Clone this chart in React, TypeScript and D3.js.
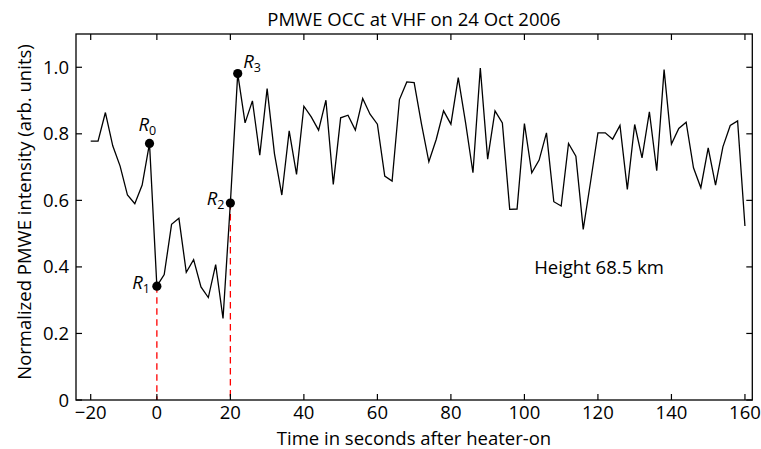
import React from "react";
import * as d3 from "d3";

const TITLE = "PMWE OCC at VHF on 24 Oct 2006";
const X_LABEL = "Time in seconds after heater-on";
const Y_LABEL = "Normalized PMWE intensity (arb. units)";
const NOTE = "Height 68.5 km";

// sample times (s after heater-on), 2 s cadence
const times: number[] = d3.range(-18, 161, 2);
const intensity: number[] = [
  0.778, 0.778, 0.864, 0.764, 0.703, 0.616, 0.590, 0.646, 0.771, 0.342,
  0.377, 0.528, 0.546, 0.384, 0.422, 0.340, 0.308, 0.407, 0.245, 0.592,
  0.981, 0.833, 0.899, 0.736, 0.936, 0.740, 0.616, 0.809, 0.678, 0.883,
  0.851, 0.811, 0.901, 0.648, 0.848, 0.856, 0.811, 0.906, 0.859, 0.829,
  0.673, 0.658, 0.903, 0.956, 0.954, 0.829, 0.716, 0.783, 0.869, 0.829,
  0.969, 0.833, 0.683, 0.998, 0.724, 0.869, 0.833, 0.573, 0.574, 0.831,
  0.683, 0.721, 0.803, 0.596, 0.583, 0.771, 0.733, 0.513, 0.656, 0.803,
  0.803, 0.784, 0.825, 0.633, 0.828, 0.728, 0.866, 0.689, 0.993, 0.769,
  0.816, 0.835, 0.698, 0.638, 0.758, 0.646, 0.761, 0.825, 0.839, 0.523,
];

// marked points R0..R3
const markTimes: number[] = [-2, 0, 20, 22];
const markNames: string[] = ["0", "1", "2", "3"];
const dashedTimes: number[] = [0, 20];

const xTickValues: number[] = [-18, 0, 20, 40, 60, 80, 100, 120, 140, 160];
const xTickLabels: string[] = ["\u221220", "0", "20", "40", "60", "80", "100", "120", "140", "160"];
const yTickValues: number[] = [0, 0.2, 0.4, 0.6, 0.8, 1.0];
const yTickLabels: string[] = ["0", "0.2", "0.4", "0.6", "0.8", "1.0"];

const W = 761;
const H = 449;
const L = 76, R = 752.3, T = 34, B = 400;
const FONT = "'Open Sans', sans-serif";
const FS = 18.5;

export default function App() {
  const x = d3.scaleLinear().domain([-22, 162]).range([L, R]);
  const y = d3.scaleLinear().domain([0, 1.1]).range([B, T]);
  const pts: [number, number][] = times.map((t, i) => [t, intensity[i]]);
  const line = d3.line<[number, number]>().x((d) => x(d[0])).y((d) => y(d[1]));
  const valAt = (t: number) => intensity[times.indexOf(t)];
  const tl = 6;

  // label placement offsets relative to marker (dx, dy, anchor)
  const labelPos: [number, number, string][] = [
    [-11, -12, "start"],
    [-7, 3, "end"],
    [-6, 1.5, "end"],
    [5.5, -5.5, "start"],
  ];

  return (
    <svg width={W} height={H} style={{ position: "absolute", left: 0, top: 0, background: "#fff" }} fontFamily={FONT}>
      <rect x={0} y={0} width={W} height={H} fill="#fff" />
      <text x={414} y={26} textAnchor="middle" fontSize={FS}>{TITLE}</text>

      {dashedTimes.map((t, i) => (
        <line key={"d" + i} x1={x(t)} x2={x(t)} y1={y(valAt(t))} y2={B}
          stroke="#ff0000" strokeWidth={1.3} strokeDasharray="6.5,4.5" />
      ))}

      <path d={line(pts) || ""} fill="none" stroke="#000" strokeWidth={1.3} strokeLinejoin="miter" />

      {markTimes.map((t, i) => {
        const cx = x(t), cy = y(valAt(t));
        const [dx, dy, anchor] = labelPos[i];
        return (
          <g key={"m" + i}>
            <circle cx={cx} cy={cy} r={4.6} fill="#000" />
            <text x={cx + dx} y={cy + dy} textAnchor={anchor} fontSize={18.5}>
              <tspan fontStyle="italic">R</tspan>
              <tspan fontSize={12.5} dy={4}>{markNames[i]}</tspan>
            </text>
          </g>
        );
      })}

      <rect x={L} y={T} width={R - L} height={B - T} fill="none" stroke="#000" strokeWidth={1.3} />

      {xTickValues.map((t, i) => (
        <g key={"xt" + i}>
          <line x1={x(t)} x2={x(t)} y1={B} y2={B - tl} stroke="#000" strokeWidth={1.2} />
          <line x1={x(t)} x2={x(t)} y1={T} y2={T + tl} stroke="#000" strokeWidth={1.2} />
          <text x={x(t)} y={419} textAnchor="middle" fontSize={FS}>{xTickLabels[i]}</text>
        </g>
      ))}
      {yTickValues.map((v, i) => (
        <g key={"yt" + i}>
          <line x1={L} x2={L + tl} y1={y(v)} y2={y(v)} stroke="#000" strokeWidth={1.2} />
          <line x1={R} x2={R - tl} y1={y(v)} y2={y(v)} stroke="#000" strokeWidth={1.2} />
          <text x={69} y={y(v) + 6.5} textAnchor="end" fontSize={FS}>{yTickLabels[i]}</text>
        </g>
      ))}

      <text x={414} y={445} textAnchor="middle" fontSize={FS}>{X_LABEL}</text>
      <text transform={`translate(31,212) rotate(-90)`} textAnchor="middle" fontSize={FS}>{Y_LABEL}</text>
      <text x={599} y={274} textAnchor="middle" fontSize={FS}>{NOTE}</text>
    </svg>
  );
}
